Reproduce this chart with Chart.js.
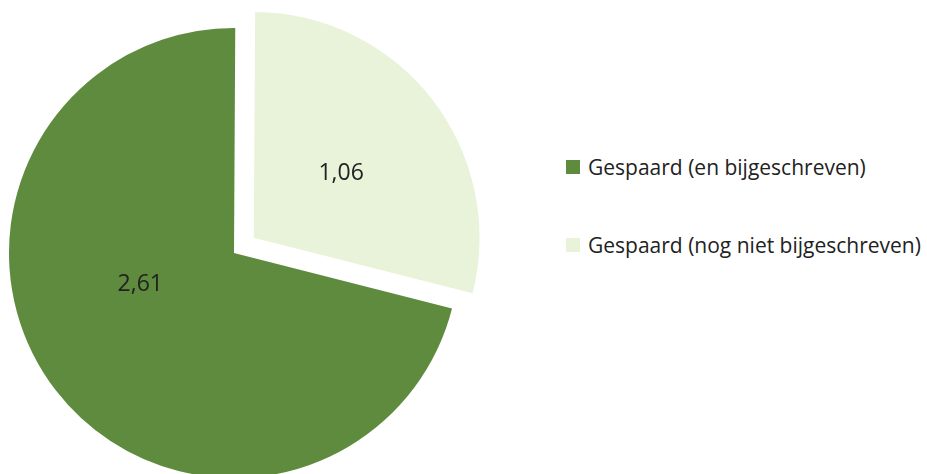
<!DOCTYPE html>
<html>
<head>
<meta charset="utf-8">
<script src="https://cdn.jsdelivr.net/npm/chart.js@4"></script>
<style>
  html, body { margin: 0; padding: 0; background: #fff; overflow: hidden; }
  body { width: 927px; height: 474px; position: relative; font-family: 'Open Sans', sans-serif; }
  #pieWrap { position: absolute; left: -16px; top: -7px; width: 500px; height: 520px; }
  #legend { position: absolute; left: 566px; top: 150px; color: #222; font-size: 21px; }
  .leg-item { display: flex; align-items: center; height: 34px; margin-bottom: 44px; }
  .leg-box { width: 14px; height: 14px; margin-right: 8px; }
</style>
</head>
<body>
<div id="pieWrap"><canvas id="pieChart"></canvas></div>
<div id="legend"></div>
<script>
// --- DADOS ---
const labels = ['Gespaard (en bijgeschreven)', 'Gespaard (nog niet bijgeschreven)'];
const values = [2.61, 1.06];
const colors = ['#5f8b3e', '#e8f3d9'];

// labels dentro das fatias (formato com vírgula)
const sliceLabels = {
    id: 'sliceLabels',
    afterDatasetsDraw(chart) {
        const ctx = chart.ctx;
        const meta = chart.getDatasetMeta(0);
        // ajuste de ângulo/raio por fatia (só estilo)
        const tweak = [{ da: 0.33, f: 0.44 }, { da: 0.02, f: 0.48 }];
        ctx.save();
        ctx.font = "23px 'Open Sans', sans-serif";
        ctx.fillStyle = '#222';
        ctx.textAlign = 'center';
        ctx.textBaseline = 'middle';
        meta.data.forEach((arc, i) => {
            const p = arc.getProps(['x', 'y', 'startAngle', 'endAngle', 'outerRadius'], true);
            // mesmo deslocamento que o ArcElement usa internamente
            const circ = p.endAngle - p.startAngle;
            const off = (arc.options.offset || 0) / 4 * (2 - Math.sin(Math.min(Math.PI, circ)));
            const mid = (p.startAngle + p.endAngle) / 2;
            const cx = p.x + Math.cos(mid) * off;
            const cy = p.y + Math.sin(mid) * off;
            const a = mid + tweak[i].da;
            const r = p.outerRadius * tweak[i].f;
            ctx.fillText(values[i].toFixed(2).replace('.', ','), cx + Math.cos(a) * r, cy + Math.sin(a) * r);
        });
        ctx.restore();
    }
};

const ctxPie = document.getElementById('pieChart').getContext('2d');
const pieChart = new Chart(ctxPie, {
    type: 'pie',
    data: {
        labels: labels,
        datasets: [{
            data: values,
            backgroundColor: colors,
            borderWidth: 0,
            offset: [0, 100]
        }]
    },
    options: {
        responsive: true,
        maintainAspectRatio: false,
        animation: false,
        radius: 225,
        rotation: 104.3,
        plugins: {
            legend: { display: false },
            tooltip: { enabled: false }
        }
    },
    plugins: [sliceLabels]
});

// legenda em HTML
const legendEl = document.getElementById('legend');
labels.forEach((l, i) => {
    const item = document.createElement('div');
    item.className = 'leg-item';
    item.innerHTML = `<span class="leg-box" style="background:${colors[i]}"></span><span>${l}</span>`;
    legendEl.appendChild(item);
});
</script>
</body>
</html>
